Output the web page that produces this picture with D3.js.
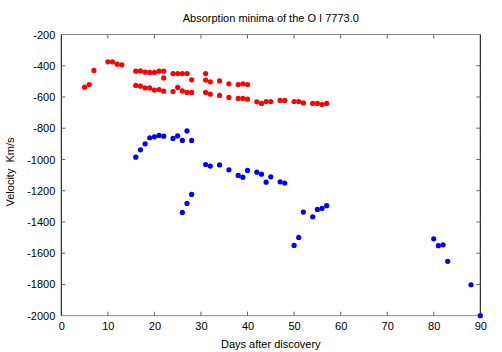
<!DOCTYPE html>
<html>
<head>
<meta charset="utf-8">
<script src="https://cdn.jsdelivr.net/npm/d3@7"></script>
<style>
  body { margin: 0; background: #fff; }
  svg text { font-family: "Liberation Sans", Arial, sans-serif; font-size: 11px; fill: #000; }
</style>
</head>
<body>
<svg id="chart" width="502" height="352"></svg>
<script>
// days after discovery and velocities (km/s)
var upperDays = [5, 6, 7, 10, 11, 12, 13, 16, 17, 18, 19, 20, 21, 22, 22, 24, 25, 26, 27, 28,
                 31, 31, 32, 34, 36, 38, 39, 40];
var upperVel  = [-537, -520, -430, -375, -375, -390, -394, -435, -433, -441, -443, -443, -435, -435, -478,
                 -450, -450, -450, -450, -490, -450, -492, -503, -497, -516, -520, -516, -520];

var lowerDays = [16, 17, 18, 19, 20, 21, 22, 24, 25, 26, 27, 28, 31, 32, 34, 36, 38, 39, 40,
                 42, 43, 44, 45, 47, 48, 50, 51, 52, 54, 55, 56, 57];
var lowerVel  = [-526, -531, -542, -542, -556, -552, -563, -565, -539, -561, -571, -571, -571, -582,
                 -590, -603, -609, -609, -614, -631, -641, -629, -629, -622, -622, -629, -629, -638,
                 -641, -641, -648, -641];

var blueDays = [16, 17, 18, 19, 20, 21, 22, 24, 25, 26, 27, 28, 31, 32, 34, 36, 38, 39, 40, 42,
                43, 44, 45, 47, 48, 26, 27, 28, 50, 51, 52, 54, 55, 56, 57, 80, 81, 82, 83, 88, 90];
var blueVel  = [-985, -938, -900, -861, -855, -846, -851, -865, -849, -878, -817, -878, -1032, -1042,
                -1035, -1066, -1102, -1113, -1070, -1081, -1094, -1145, -1111, -1143, -1151, -1339,
                -1281, -1224, -1550, -1499, -1337, -1367, -1320, -1313, -1296, -1508, -1552, -1546,
                -1652, -1802, -2000];

var xTicks = [0, 10, 20, 30, 40, 50, 60, 70, 80, 90];
var yTicks = [-200, -400, -600, -800, -1000, -1200, -1400, -1600, -1800, -2000];

var svg = d3.select("#chart");
var pLeft = 61.3, pRight = 480.3, pTop = 34.5, pBottom = 315.7;

var x = d3.scaleLinear().domain([0, 90]).range([pLeft, pRight]);
var y = d3.scaleLinear().domain([-200, -2000]).range([pTop, pBottom]);

// frame: top/bottom grey, left/right black
svg.append("line").attr("x1", pLeft).attr("x2", pRight).attr("y1", pTop).attr("y2", pTop)
    .attr("stroke", "#888").attr("stroke-width", 1);
svg.append("line").attr("x1", pLeft).attr("x2", pRight).attr("y1", pBottom).attr("y2", pBottom)
    .attr("stroke", "#888").attr("stroke-width", 1);
svg.append("line").attr("x1", pLeft).attr("x2", pLeft).attr("y1", pTop).attr("y2", pBottom)
    .attr("stroke", "#000").attr("stroke-width", 1);
svg.append("line").attr("x1", pRight).attr("x2", pRight).attr("y1", pTop).attr("y2", pBottom)
    .attr("stroke", "#000").attr("stroke-width", 1);

// tick labels via d3 axes, ticks themselves drawn inwards below
var xAxis = d3.axisBottom(x).tickValues(xTicks).tickSize(0).tickPadding(7).tickFormat(d3.format("d"));
var xg = svg.append("g").attr("transform", "translate(0," + pBottom + ")").call(xAxis);
xg.select(".domain").remove();

var yAxis = d3.axisLeft(y).tickValues(yTicks).tickSize(0).tickPadding(6).tickFormat(d3.format("d"));
var yg = svg.append("g").attr("transform", "translate(" + pLeft + ",0)").call(yAxis);
yg.select(".domain").remove();
yg.selectAll("text").text(function(d) { return String(d); });

var tickLen = 4;
svg.append("g").selectAll("line").data(xTicks.slice(1, -1)).enter().append("line")
    .attr("x1", x).attr("x2", x).attr("y1", pBottom).attr("y2", pBottom - tickLen)
    .attr("stroke", "#666");
svg.append("g").selectAll("line").data(xTicks.slice(1, -1)).enter().append("line")
    .attr("x1", x).attr("x2", x).attr("y1", pTop).attr("y2", pTop + tickLen)
    .attr("stroke", "#666");
svg.append("g").selectAll("line").data(yTicks.slice(1, -1)).enter().append("line")
    .attr("x1", pLeft).attr("x2", pLeft + tickLen).attr("y1", y).attr("y2", y)
    .attr("stroke", "#666");
svg.append("g").selectAll("line").data(yTicks.slice(1, -1)).enter().append("line")
    .attr("x1", pRight).attr("x2", pRight - tickLen).attr("y1", y).attr("y2", y)
    .attr("stroke", "#666");

// points
function drawSeries(days, vals, color) {
  svg.append("g").selectAll("circle").data(days).enter().append("circle")
      .attr("cx", function(d) { return x(d); })
      .attr("cy", function(d, i) { return y(vals[i]); })
      .attr("r", 2.6)
      .attr("fill", color);
}
drawSeries(upperDays, upperVel, "#ff0000");
drawSeries(lowerDays, lowerVel, "#ff0000");
drawSeries(blueDays, blueVel, "#0000ff");

// labels
svg.append("text").attr("x", (pLeft + pRight) / 2).attr("y", 22)
    .attr("text-anchor", "middle").text("Absorption minima of the O I 7773.0");
svg.append("text").attr("x", (pLeft + pRight) / 2).attr("y", 348)
    .attr("text-anchor", "middle").text("Days after discovery");
svg.append("text").attr("transform", "translate(14,172) rotate(-90)")
    .attr("text-anchor", "middle").style("white-space", "pre").text("Velocity  Km/s");
</script>
</body>
</html>
